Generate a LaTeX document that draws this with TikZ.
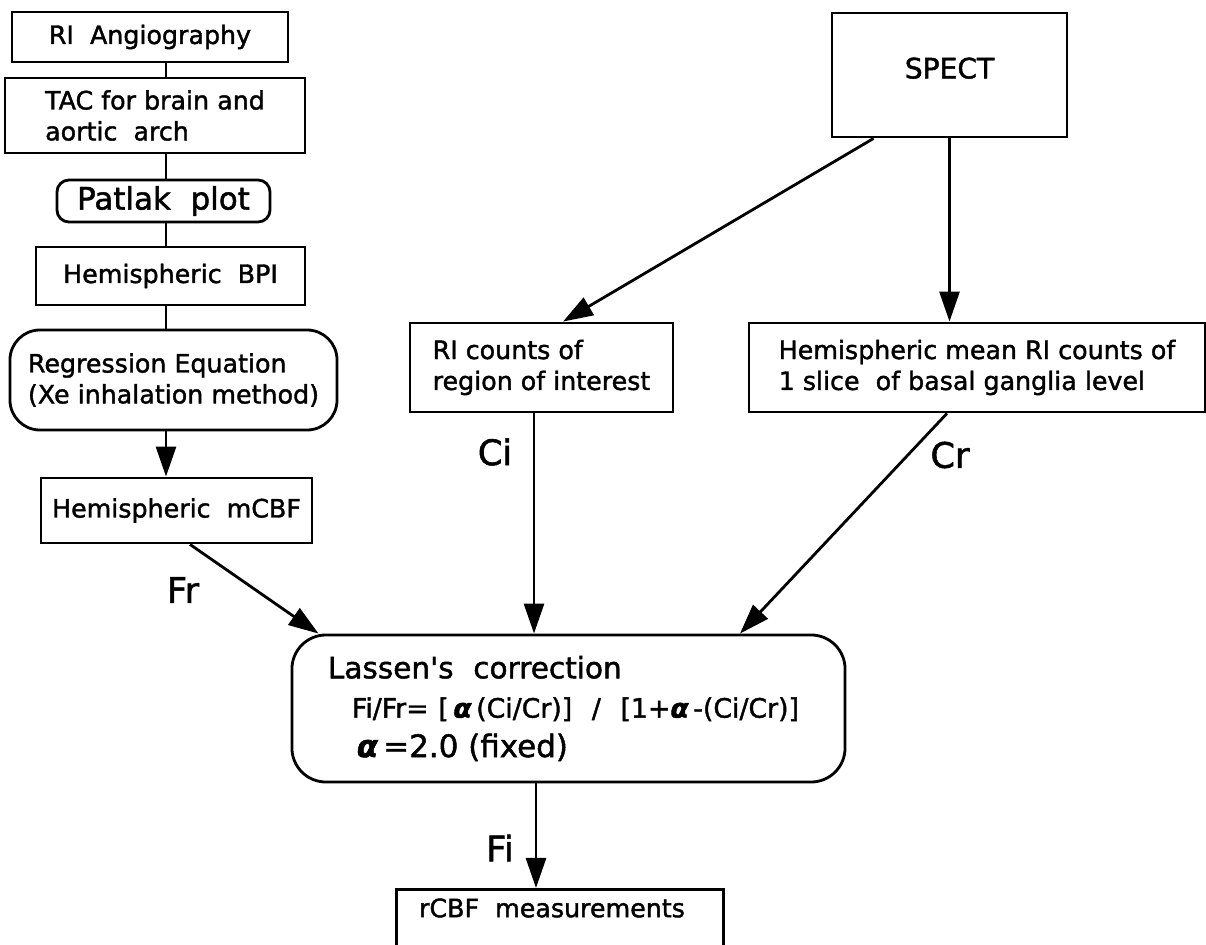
\documentclass[tikz,border=0pt]{standalone}
\usepackage{fontspec}
\setmainfont{DejaVu Sans}[Ligatures=TeXOff, FakeBold=1.5, UprightFont=*, BoldFont=*, ItalicFont=* Oblique]
\usetikzlibrary{arrows.meta,calc}

\begin{document}
\begin{tikzpicture}[x=0.025cm, y=-0.025cm, line width=2pt,
    every node/.style={font=\bfseries\fontsize{18}{22}\selectfont},
    box/.style={draw, rectangle, align=left, inner sep=0pt},
    lbl/.style={font=\bfseries\fontsize{25}{30}\selectfont},
    arr/.style={-{Triangle[length=0.75cm,width=0.5cm]}}]

    \useasboundingbox (0,0) rectangle (1206,945);
    \clip (0,0) rectangle (1206,945);

    % Coluna esquerda - angiografia
    \coordinate (spine) at (166,0);
    \node[box, minimum width=6.9cm, minimum height=1.25cm] (angio) at (150,37) {RI\ \ Angiography};
    \node[box, minimum width=7.5cm, minimum height=1.875cm] (tac) at (155,115.5) {TAC for brain and\\aortic\ \ arch};
    \node[box, rounded corners=0.3cm, minimum width=5.325cm, minimum height=1.05cm, font=\bfseries\fontsize{22}{26}\selectfont] (patlak) at (163.5,201) {Patlak\ \ plot};
    \node[box, minimum width=6.725cm, minimum height=1.45cm] (bpi) at (170.5,276) {Hemispheric\ \ BPI};
    \node[box, rounded corners=0.75cm, minimum width=8.175cm, minimum height=2.5cm] (regr) at (173.5,380) {Regression Equation\\(Xe inhalation method)};
    \node[box, minimum width=6.775cm, minimum height=1.625cm] (mcbf) at (176.5,510.5) {Hemispheric\ \ mCBF};

    % SPECT
    \node[box, minimum width=5.875cm, minimum height=3.1cm, text depth=0.35cm, font=\bfseries\fontsize{20}{24}\selectfont] (spect) at (949.5,75) {SPECT};
    \node[box, minimum width=6.575cm, minimum height=2.225cm] (roi) at (541.5,367.5) {RI counts of\\region of interest};
    \node[box, minimum width=11.4cm, minimum height=2.225cm] (mean) at (977,367.5) {Hemispheric mean RI counts of\\1 slice\ \ of basal ganglia level};

    % Correcao de Lassen
    \node[box, rounded corners=0.85cm, minimum width=13.825cm, minimum height=3.675cm,
          text width=12.025cm, inner xsep=0.9cm, font=\bfseries\fontsize{21}{28}\selectfont] (lassen) at (568.5,708.5)
        {Lassen's\ \ correction\\
         \hspace*{0.6cm}{\fontsize{19}{20}\selectfont Fi/Fr= [\,\textit{α}\,(Ci/Cr)]\ \ /\ \ [1+\textit{α}\,-(Ci/Cr)]}\\
         \hspace*{0.72cm}{\fontsize{22}{28}\selectfont\textit{α}\,=2.0 (fixed)}};

    % Resultado
    \node[box, anchor=north west, minimum width=8.175cm, minimum height=2.5cm] (rcbf) at (395,888) {};
    \node[anchor=west] (meas) at ($(rcbf.north west)+(18,20)$) {rCBF\ \ measurements};

    % Ligacoes da coluna esquerda
    \draw (angio.south -| spine) -- (tac.north -| spine);
    \draw (tac.south -| spine) -- (patlak.north -| spine);
    \draw (patlak.south -| spine) -- (bpi.north -| spine);
    \draw (bpi.south -| spine) -- (regr.north -| spine);
    \draw[arr] (regr.south -| spine) -- (mcbf.north -| spine);

    % Setas do SPECT
    \draw[arr] ($(spect.south west)+(43,0)$) -- ($(roi.north)+(21.5,0)$);
    \draw[arr] (spect.south) -- (spect.south |- mean.north);

    % Setas para a correcao
    \draw[arr] ($(mcbf.south)+(13.5,0)$) -- ($(lassen.north west)+(28,0)$);
    \draw[arr] ($(roi.south)+(-7.5,0)$) -- ($(lassen.north)+(-34.5,0)$);
    \draw[arr] ($(mean.south)+(-30,0)$) -- ($(lassen.north)+(171.5,0)$);
    \draw[arr] ($(lassen.south)+(-32.5,0)$) -- ($(rcbf.north west)+(141,0)$);

    % Rotulos
    \node[lbl] (fr) at (183,590) {Fr};
    \node[lbl] (ci) at (495,452) {Ci};
    \node[lbl] (cr) at (950,455) {Cr};
    \node[lbl] (fi) at (500,848) {Fi};
\end{tikzpicture}
\end{document}
